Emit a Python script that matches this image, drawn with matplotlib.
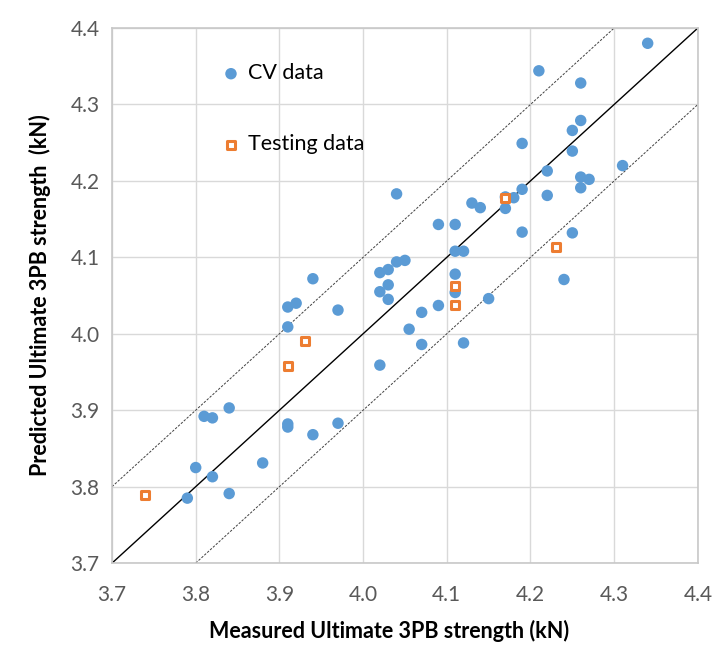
import matplotlib
matplotlib.use("Agg")
import matplotlib.pyplot as plt
import numpy as np

plt.rcParams['font.family'] = ['Lato', 'DejaVu Sans']

cv_measured = [4.34, 4.21, 4.26, 4.26, 4.25, 4.25, 4.19, 4.31, 4.22, 4.26,
               4.27, 4.26, 4.19, 4.17, 4.18, 4.22, 4.17, 4.13, 4.14, 4.04,
               4.09, 4.11, 4.19, 4.25, 4.11, 4.12, 4.05, 4.04, 4.03, 4.02,
               4.11, 4.24, 3.94, 4.11, 4.15, 4.03, 4.02, 4.03, 4.09, 4.07,
               3.91, 3.92, 3.97, 4.055, 3.91, 4.07, 4.12, 4.02, 3.81, 3.82,
               3.84, 3.91, 3.91, 3.94, 3.97, 3.80, 3.88, 3.82, 3.79, 3.84]
cv_predicted = [4.380, 4.344, 4.328, 4.279, 4.266, 4.239, 4.249, 4.220, 4.213, 4.205,
                4.202, 4.191, 4.189, 4.179, 4.178, 4.181, 4.164, 4.171, 4.165, 4.183,
                4.143, 4.143, 4.133, 4.132, 4.108, 4.108, 4.096, 4.094, 4.084, 4.080,
                4.078, 4.071, 4.072, 4.054, 4.046, 4.064, 4.055, 4.045, 4.037, 4.028,
                4.035, 4.040, 4.031, 4.006, 4.009, 3.986, 3.988, 3.959, 3.892, 3.890,
                3.903, 3.882, 3.878, 3.868, 3.883, 3.825, 3.831, 3.813, 3.785, 3.791]

test_measured = [3.74, 3.91, 3.93, 4.11, 4.11, 4.17, 4.23]
test_predicted = [3.789, 3.958, 3.991, 4.037, 4.062, 4.178, 4.113]

ticks = [3.7, 3.8, 3.9, 4.0, 4.1, 4.2, 4.3, 4.4]
band = 0.1

fig = plt.figure(figsize=(7.18, 6.51), dpi=100)
ax = fig.add_axes([0.156, 0.135, 0.816, 0.822])

lo, hi = ticks[0], ticks[-1]
ax.plot([lo, hi], [lo, hi], color='black', lw=1.0, zorder=2)
ax.plot([lo, hi - band], [lo + band, hi], color='#404040', lw=0.7,
        linestyle=(0, (2.5, 1.5)), zorder=2)
ax.plot([lo + band, hi], [lo, hi - band], color='#404040', lw=0.7,
        linestyle=(0, (2.5, 1.5)), zorder=2)

ax.scatter(cv_measured, cv_predicted, s=68, color='#5B9BD5', edgecolors='none',
           zorder=3, label='CV data')
ax.scatter(test_measured, test_predicted, s=34, marker='s', facecolors='white',
           edgecolors='#ED7D31', linewidths=2.2, zorder=4, label='Testing data')

ax.set_xlim(lo, hi)
ax.set_ylim(lo, hi)
ax.set_xticks(ticks)
ax.set_yticks(ticks)
ax.set_xticklabels([f"{t:.1f}" for t in ticks])
ax.set_yticklabels([f"{t:.1f}" for t in ticks])
ax.tick_params(axis='both', length=0, labelsize=15, colors='#595959')
ax.tick_params(axis='x', pad=16)
ax.tick_params(axis='y', pad=9)
ax.grid(True, color='#d9d9d9', lw=1.0, zorder=0)
ax.set_axisbelow(True)
for s in ax.spines.values():
    s.set_color('#c8c8c8')
    s.set_linewidth(1.2)

ax.set_xlabel('Measured Ultimate 3PB strength (kN)', fontsize=15.5,
              fontweight='bold', color='black', labelpad=10)
ax.xaxis.set_label_coords(0.473, -0.107)
ax.set_ylabel('Predicted Ultimate 3PB strength  (kN)', fontsize=15.5,
              fontweight='bold', color='black', labelpad=14)

leg = ax.legend(loc='upper left', bbox_to_anchor=(0.17, 0.95), frameon=False,
                fontsize=15.5, labelspacing=2.36, handletextpad=0.3,
                handlelength=1.0, borderaxespad=0)

fig.savefig('out.png', dpi=100, facecolor='white')
